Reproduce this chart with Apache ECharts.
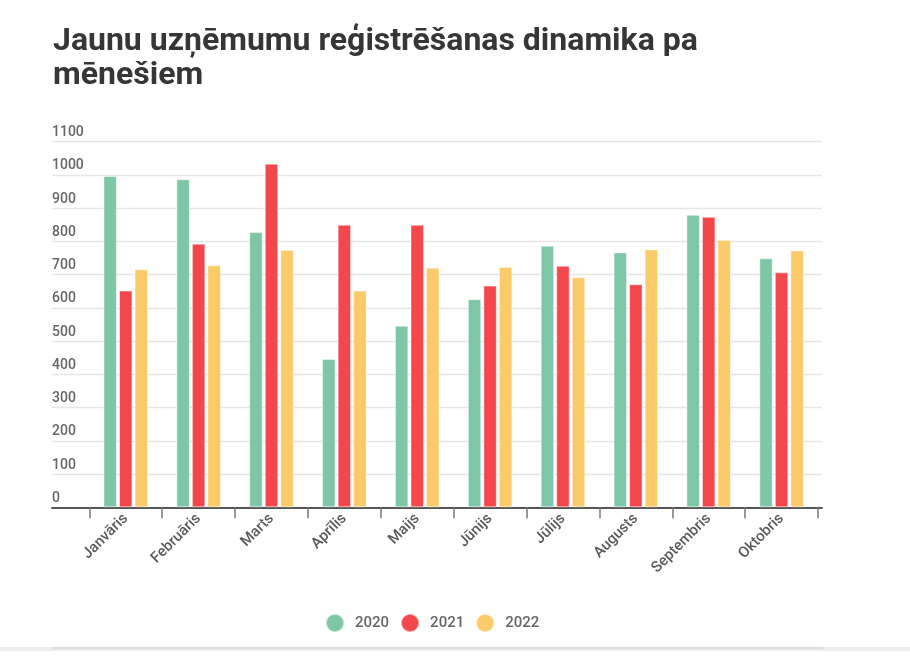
<!DOCTYPE html>
<html>
<head>
<meta charset="utf-8">
<script src="https://cdn.jsdelivr.net/npm/echarts@6/dist/echarts.min.js"></script>
<style>
html,body{margin:0;padding:0;background:#fff;}
#chart{width:910px;height:657px;}
</style>
</head>
<body>
<div id="chart"></div>
<script>
const months = ['Janvāris','Februāris','Marts','Aprīlis','Maijs','Jūnijs','Jūlijs','Augusts','Septembris','Oktobris'];
const seriesNames = ['2020','2021','2022'];
const values2020 = [997, 987, 828, 446, 546, 626, 787, 767, 880, 749];
const values2021 = [652, 793, 1034, 850, 850, 667, 727, 671, 874, 707];
const values2022 = [716, 728, 774, 652, 721, 723, 692, 776, 804, 773];
const yTicks = {min: 0, max: 1100, interval: 100};
const colors = ['#7ec6a8', '#f3474c', '#fbca69'];

const chart = echarts.init(document.getElementById('chart'), null, {renderer: 'canvas'});
const font = 'Roboto, "Noto Sans", sans-serif';
const seriesData = [values2020, values2021, values2022];

chart.setOption({
  animation: false,
  backgroundColor: '#fff',
  title: {
    text: 'Jaunu uzņēmumu reģistrēšanas dinamika pa\nmēnešiem',
    left: 48, top: 20,
    textStyle: {fontFamily: font, fontSize: 32, fontWeight: 'bold', color: '#363636', lineHeight: 34}
  },
  legend: {
    data: seriesNames,
    left: 320, top: 608,
    icon: 'circle', itemWidth: 18, itemHeight: 18, itemGap: 11,
    textStyle: {fontFamily: font, fontSize: 15, fontWeight: 500, color: '#666', padding: [0,0,0,6]}
  },
  grid: [
    {left: 52, right: 88, top: 141.7, bottom: 149.7},
    {left: 89.3, right: 92, top: 141.7, bottom: 149.7}
  ],
  xAxis: [
    {gridIndex: 0, type: 'value', min: 0, max: 1,
     axisLine: {show: true, lineStyle: {color: '#555', width: 2}},
     axisTick: {show: false}, axisLabel: {show: false}, splitLine: {show: false}},
    {gridIndex: 1, type: 'category', data: months,
     axisLine: {show: false},
     axisTick: {show: true, length: 11, lineStyle: {color: '#777', width: 1.5}},
     axisLabel: {rotate: 45, margin: 9, fontFamily: font, fontSize: 15, fontWeight: 500, color: '#5a5a5a', interval: 0}}
  ],
  yAxis: [
    {gridIndex: 0, type: 'value', min: yTicks.min, max: yTicks.max, interval: yTicks.interval,
     axisLine: {show: false}, axisTick: {show: false},
     splitLine: {show: true, lineStyle: {color: '#e6e6e6', width: 1.3}},
     axisLabel: {inside: true, margin: 0, verticalAlign: 'bottom', padding: [0,0,2,0],
       formatter: v => String(v),
       fontFamily: font, fontSize: 14, fontWeight: 500, color: '#666'}},
    {gridIndex: 1, type: 'value', min: yTicks.min, max: yTicks.max, interval: yTicks.interval,
     show: false, splitLine: {show: false}}
  ],
  series: seriesNames.map((n, i) => ({
    name: n, type: 'bar', xAxisIndex: 1, yAxisIndex: 1,
    data: seriesData[i],
    barWidth: 13.4, barGap: '16%',
    itemStyle: {color: colors[i], borderColor: 'rgba(255,255,255,0.45)', borderWidth: 1}
  })),
  graphic: [
    {type: 'rect', shape: {x: 0, y: 647, width: 910, height: 4}, style: {fill: '#ececec'}, silent: true},
    {type: 'rect', shape: {x: 52, y: 647, width: 771, height: 2}, style: {fill: '#dcdcdc'}, silent: true}
  ]
});
</script>
</body>
</html>
